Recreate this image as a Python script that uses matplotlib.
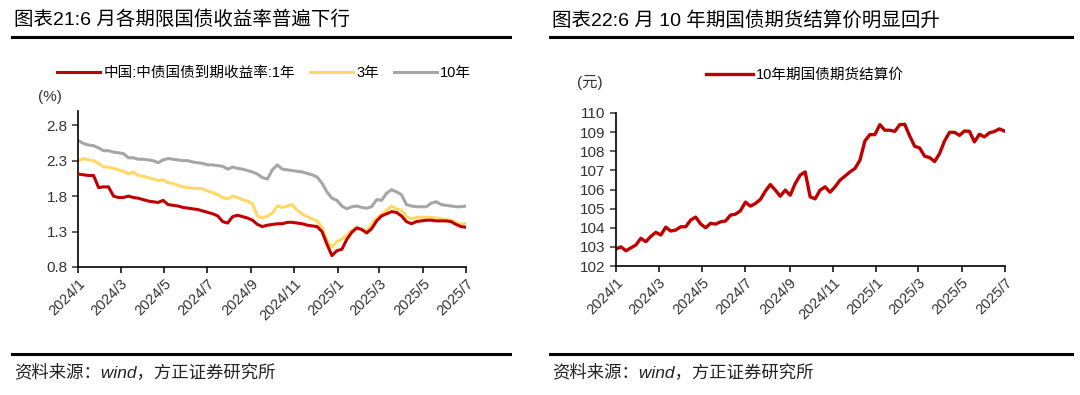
import matplotlib
matplotlib.use("Agg")
import matplotlib.pyplot as plt
from matplotlib.lines import Line2D
import pandas as pd

plt.rcParams['font.family'] = ['Liberation Sans', 'Noto Sans CJK SC']

# left chart: weekly readings of the treasury yields (%)
yield_dates = pd.date_range('2024-01-02', periods=79, freq='7D')
y1 = [2.11, 2.10, 2.09, 2.09, 1.92, 1.93, 1.93, 1.80, 1.78, 1.78,
      1.80, 1.78, 1.77, 1.75, 1.73, 1.72, 1.71, 1.74, 1.68, 1.67,
      1.66, 1.64, 1.63, 1.62, 1.61, 1.59, 1.57, 1.55, 1.52, 1.44,
      1.42, 1.51, 1.53, 1.51, 1.49, 1.46, 1.40, 1.37, 1.39, 1.40,
      1.41, 1.41, 1.43, 1.43, 1.42, 1.41, 1.39, 1.38, 1.37, 1.30,
      1.12, 0.96, 1.03, 1.05, 1.19, 1.29, 1.35, 1.33, 1.28, 1.34,
      1.45, 1.52, 1.55, 1.58, 1.57, 1.52, 1.44, 1.41, 1.44, 1.45,
      1.46, 1.46, 1.45, 1.45, 1.45, 1.44, 1.40, 1.37, 1.36]
y3 = [2.30, 2.33, 2.31, 2.30, 2.26, 2.21, 2.21, 2.19, 2.17, 2.15,
      2.11, 2.14, 2.09, 2.08, 2.06, 2.04, 2.02, 2.03, 1.99, 1.98,
      1.95, 1.93, 1.92, 1.91, 1.91, 1.90, 1.87, 1.85, 1.82, 1.78,
      1.76, 1.80, 1.78, 1.75, 1.73, 1.69, 1.52, 1.49, 1.52, 1.56,
      1.66, 1.64, 1.66, 1.68, 1.60, 1.55, 1.51, 1.48, 1.45, 1.36,
      1.17, 1.08, 1.16, 1.19, 1.25, 1.32, 1.36, 1.32, 1.31, 1.40,
      1.49, 1.54, 1.60, 1.66, 1.62, 1.60, 1.51, 1.48, 1.50, 1.50,
      1.50, 1.50, 1.49, 1.48, 1.47, 1.46, 1.43, 1.40, 1.42]
y10 = [2.58, 2.54, 2.52, 2.51, 2.48, 2.44, 2.44, 2.42, 2.41, 2.40,
       2.34, 2.34, 2.32, 2.32, 2.31, 2.30, 2.27, 2.31, 2.33, 2.32,
       2.31, 2.30, 2.30, 2.28, 2.27, 2.26, 2.24, 2.24, 2.23, 2.22,
       2.18, 2.21, 2.19, 2.18, 2.16, 2.14, 2.11, 2.06, 2.04, 2.17,
       2.24, 2.18, 2.17, 2.16, 2.15, 2.14, 2.12, 2.10, 2.07, 1.98,
       1.86, 1.77, 1.74, 1.66, 1.62, 1.65, 1.66, 1.64, 1.63, 1.65,
       1.75, 1.74, 1.84, 1.89, 1.86, 1.82, 1.68, 1.66, 1.65, 1.65,
       1.65, 1.70, 1.72, 1.68, 1.67, 1.66, 1.65, 1.65, 1.66]

# right chart: weekly settlement price of 10y treasury futures (yuan)
fut_dates = pd.date_range('2024-01-01', periods=79, freq='7D')
fut = [102.89, 103.00, 102.80, 102.95, 103.10, 103.45, 103.27, 103.55, 103.76, 103.62,
       104.03, 103.83, 103.88, 104.05, 104.05, 104.40, 104.56, 104.20, 104.00, 104.23,
       104.19, 104.31, 104.35, 104.66, 104.71, 104.89, 105.34, 105.13, 105.27, 105.48,
       105.91, 106.26, 105.97, 105.65, 105.97, 105.70, 106.31, 106.75, 106.92, 105.62,
       105.51, 105.97, 106.14, 105.86, 106.14, 106.49, 106.70, 106.92, 107.10, 107.53,
       108.54, 108.87, 108.87, 109.39, 109.10, 109.10, 109.04, 109.39, 109.41, 108.80,
       108.26, 108.17, 107.74, 107.67, 107.46, 107.88, 108.54, 108.99, 108.99, 108.83,
       109.06, 109.04, 108.49, 108.89, 108.75, 108.96, 109.03, 109.17, 109.06]

tick_dates = pd.date_range('2024-01-01', '2025-07-01', freq='2MS')
tick_labels = [f'{d.year}/{d.month}' for d in tick_dates]

RED = '#C00000'
YELLOW = '#FFD966'
GRAY = '#A6A6A6'

fig = plt.figure(figsize=(10.8, 3.95), dpi=100)
W, H = 1080, 395


def fx(px):
    return px / W


def fy(py):
    return 1 - py / H


def style_axes(ax):
    for s in ['top', 'right']:
        ax.spines[s].set_visible(False)
    for s in ['left', 'bottom']:
        ax.spines[s].set_linewidth(1.2)
    ax.set_xlim(tick_dates[0], tick_dates[-1])
    ax.set_xticks(tick_dates)
    ax.set_xticklabels(tick_labels, rotation=45, ha='right', rotation_mode='anchor',
                       fontsize=10.5, color='#333333')
    ax.tick_params(axis='both', direction='out', length=4, width=1.1)
    ax.tick_params(axis='y', labelsize=11, colors='#333333')
    ax.tick_params(axis='x', pad=3)


def frame(x0, x1, title):
    fig.text(fx(x0 + 2), fy(20), title, fontsize=14, va='center', ha='left')
    fig.add_artist(Line2D([fx(x0), fx(x1)], [fy(37), fy(37)], color='black', lw=2.2))
    fig.add_artist(Line2D([fx(x0), fx(x1)], [fy(354), fy(354)], color='black', lw=2.2))
    fig.text(fx(x0 + 2), fy(372), '资料来源：wind，方正证券研究所', fontsize=12.5,
             va='center', ha='left', style='italic', color='#222222')


# left panel
ax1 = fig.add_axes([fx(78), fy(267), fx(466 - 78), (267 - 111) / H])
l1, = ax1.plot(yield_dates, y1, color=RED, lw=2.2, zorder=3)
l3, = ax1.plot(yield_dates, y3, color=YELLOW, lw=2.2, zorder=2)
l10, = ax1.plot(yield_dates, y10, color=GRAY, lw=2.2, zorder=1)
ax1.set_ylim(0.8, 3.0)
ax1.set_yticks([0.8, 1.3, 1.8, 2.3, 2.8])
ax1.set_yticklabels(['0.8', '1.3', '1.8', '2.3', '2.8'])
style_axes(ax1)
fig.legend([l1, l3, l10], ['中国:中债国债到期收益率:1年', '3年', '10年'],
           loc='center', bbox_to_anchor=(fx(264), fy(73)), ncol=3, frameon=False,
           fontsize=10.5, handlelength=3.0, handletextpad=0.2, columnspacing=1.0)
fig.text(fx(50), fy(97), '(%)', fontsize=11, ha='center', va='center', color='#333333')
frame(12, 510, '图表21:6 月各期限国债收益率普遍下行')

# right panel
ax2 = fig.add_axes([fx(616), fy(266), fx(1005 - 616), (266 - 113) / H])
lf, = ax2.plot(fut_dates, fut, color=RED, lw=2.4)
ax2.set_ylim(102, 110)
ax2.set_yticks(range(102, 111))
style_axes(ax2)
fig.legend([lf], ['10年期国债期货结算价'], loc='center left',
           bbox_to_anchor=(fx(693), fy(75)), frameon=False, fontsize=10.5,
           handlelength=3.2, handletextpad=0.2)
fig.text(fx(590), fy(83), '(元)', fontsize=11, ha='center', va='center', color='#333333')
frame(550, 1072, '图表22:6 月 10 年期国债期货结算价明显回升')

fig.savefig('out.png', dpi=100)
